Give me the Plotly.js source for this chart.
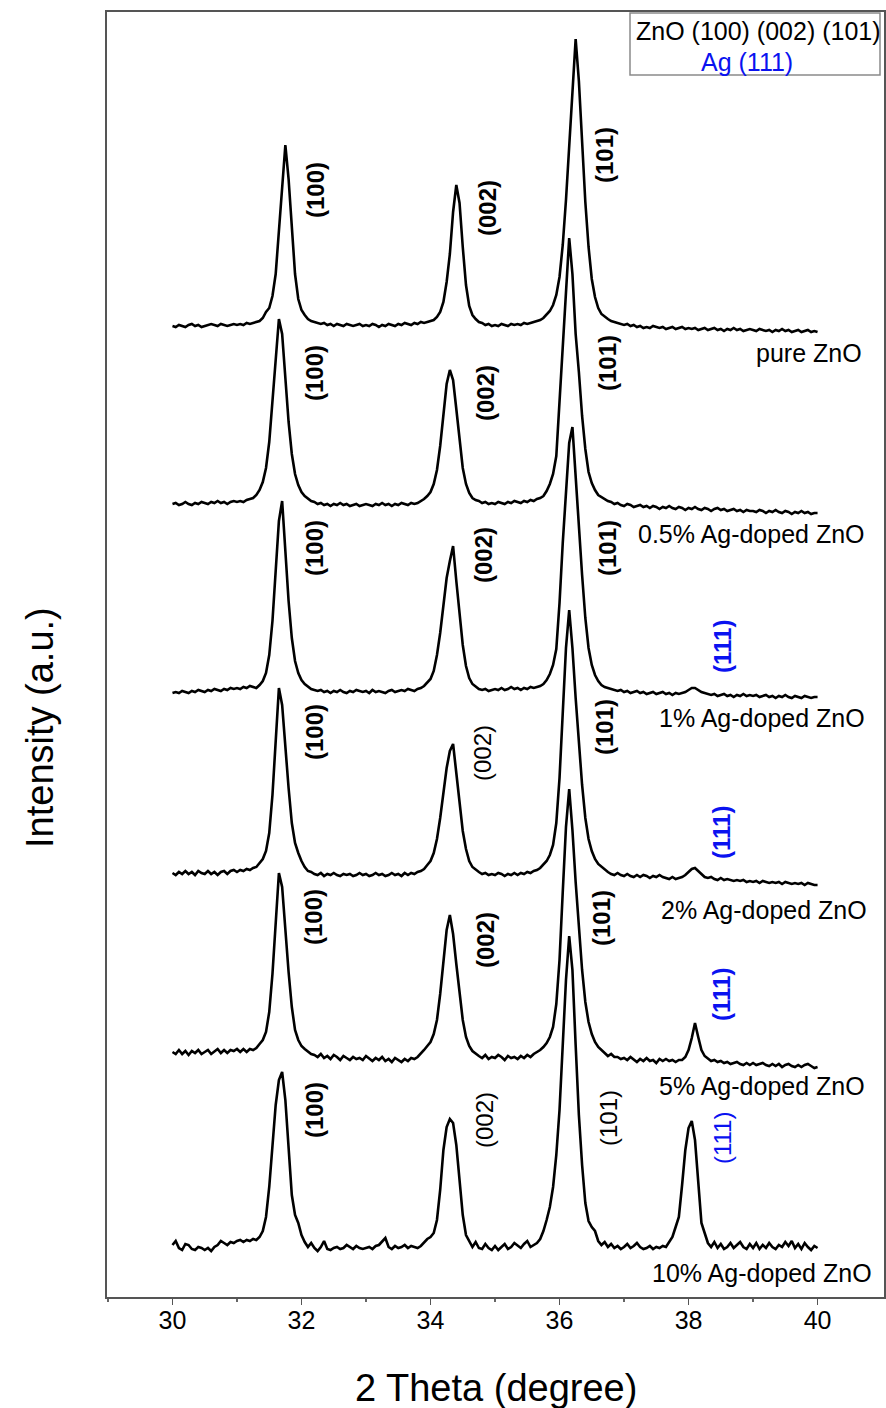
<!DOCTYPE html>
<html><head><meta charset="utf-8">
<script src="https://cdn.plot.ly/plotly-3.0.1.min.js"></script>
<style>html,body{margin:0;padding:0;background:#fff}</style>
</head><body>
<div id="chart" style="width:886px;height:1408px"></div>
<script>
// ---------- data ----------
const twoTheta = [
30,30.05,30.1,30.15,30.2,30.25,30.3,30.35,30.4,30.45,30.5,30.55,30.6,30.65,30.7,30.75,30.8,30.85,30.9,30.95,
31,31.05,31.1,31.15,31.2,31.25,31.3,31.35,31.4,31.45,31.5,31.55,31.6,31.65,31.7,31.75,31.8,31.85,31.9,31.95,
32,32.05,32.1,32.15,32.2,32.25,32.3,32.35,32.4,32.45,32.5,32.55,32.6,32.65,32.7,32.75,32.8,32.85,32.9,32.95,
33,33.05,33.1,33.15,33.2,33.25,33.3,33.35,33.4,33.45,33.5,33.55,33.6,33.65,33.7,33.75,33.8,33.85,33.9,33.95,
34,34.05,34.1,34.15,34.2,34.25,34.3,34.35,34.4,34.45,34.5,34.55,34.6,34.65,34.7,34.75,34.8,34.85,34.9,34.95,
35,35.05,35.1,35.15,35.2,35.25,35.3,35.35,35.4,35.45,35.5,35.55,35.6,35.65,35.7,35.75,35.8,35.85,35.9,35.95,
36,36.05,36.1,36.15,36.2,36.25,36.3,36.35,36.4,36.45,36.5,36.55,36.6,36.65,36.7,36.75,36.8,36.85,36.9,36.95,
37,37.05,37.1,37.15,37.2,37.25,37.3,37.35,37.4,37.45,37.5,37.55,37.6,37.65,37.7,37.75,37.8,37.85,37.9,37.95,
38,38.05,38.1,38.15,38.2,38.25,38.3,38.35,38.4,38.45,38.5,38.55,38.6,38.65,38.7,38.75,38.8,38.85,38.9,38.95,
39,39.05,39.1,39.15,39.2,39.25,39.3,39.35,39.4,39.45,39.5,39.55,39.6,39.65,39.7,39.75,39.8,39.85,39.9,39.95,
40];

const pureZnO = [
0,-1,1,0,-1,1,2,0,1,-1,0,1,2,1,0,2,1,0,1,2,
1,2,1,3,2,3,4,5,8,14,18,30,52,94,142,181,147,94,52,27,
16,11,7,5,4,3,2,3,1,2,0,2,1,0,2,1,0,1,2,0,
1,0,2,1,-1,1,0,2,1,0,2,1,3,2,1,3,2,4,3,4,
5,6,9,14,24,44,72,114,141,123,79,41,20,11,7,4,3,1,2,0,
1,0,2,1,0,2,1,2,1,3,2,3,4,5,6,8,11,15,21,31,
49,81,126,181,241,287,245,180,124,79,47,29,18,12,9,7,5,4,3,2,
1,2,0,1,-1,0,-2,-1,-2,0,-1,-2,-1,-3,-2,-1,-3,-2,-1,-3,
-2,-3,-2,-4,-3,-2,-4,-3,-2,-4,-3,-5,-3,-4,-2,-4,-3,-5,-4,-3,
-4,-5,-3,-4,-5,-4,-6,-4,-5,-3,-5,-4,-6,-5,-4,-6,-5,-4,-6,-5,
-6];

const ag05 = [
0,1,-1,0,2,0,-1,1,0,2,1,0,2,1,3,1,2,0,2,3,
2,3,2,4,5,6,9,14,22,36,62,103,152,185,170,125,82,50,30,19,
12,8,5,3,2,0,1,-1,0,-2,0,-1,1,-1,0,-2,-1,0,-2,-1,
0,-1,-2,0,-1,1,-1,0,-2,0,-1,1,0,-1,1,0,1,3,5,8,
12,20,34,58,90,120,134,124,95,62,36,20,11,6,4,3,1,2,0,1,
0,2,1,0,2,1,3,2,1,3,2,4,3,5,6,8,13,20,30,48,
100,155,212,266,230,170,132,88,55,32,21,14,9,7,5,3,2,0,1,-1,
-2,0,-1,-3,-2,-1,-3,-2,-4,-2,-3,-5,-3,-4,-2,-4,-5,-3,-4,-6,
-4,-5,-3,-5,-6,-4,-5,-7,-5,-4,-6,-5,-7,-6,-5,-7,-6,-8,-6,-7,
-7,-8,-6,-7,-9,-7,-8,-6,-8,-9,-7,-8,-10,-8,-9,-7,-9,-8,-10,-9,
-9];

const ag1 = [
0,1,0,2,1,0,2,1,3,2,1,3,2,4,3,2,4,3,5,4,
5,4,6,5,7,6,5,8,12,20,38,72,125,172,192,140,92,55,32,20,
13,9,6,4,3,2,3,1,2,0,2,1,3,1,0,2,1,3,2,1,
2,0,3,1,2,1,0,2,3,1,2,3,2,4,3,2,4,5,7,10,
14,22,38,60,90,115,132,147,112,80,48,27,15,9,6,4,3,4,2,3,
4,3,5,3,4,6,4,5,3,5,4,6,5,6,7,9,13,19,28,44,
90,150,205,250,266,215,165,118,75,45,28,18,12,8,6,5,4,3,2,3,
1,2,0,1,2,0,1,-1,0,1,-1,0,1,-1,0,-2,0,-1,0,1,
3,5,5,3,1,0,-1,-2,-1,-3,-2,-1,-3,-2,-4,-2,-3,-1,-3,-2,
-3,-2,-4,-3,-2,-4,-3,-5,-3,-4,-2,-4,-5,-3,-4,-5,-3,-4,-5,-4,
-4];

const ag2 = [
0,-2,1,-1,2,-1,1,-2,2,0,-1,2,-1,1,-2,1,2,-1,2,3,
1,3,2,4,3,5,6,10,14,22,40,78,135,185,168,122,85,50,30,20,
12,6,2,1,-1,-2,0,-3,-1,-2,0,-2,-3,-1,-2,-1,-3,-2,0,-2,
-1,-3,-2,0,-2,-1,-3,-2,0,-2,-1,-3,0,-2,0,-1,1,2,4,8,
12,20,34,55,82,105,122,129,100,72,42,24,12,6,3,1,-1,0,-2,-1,
-2,0,-1,-3,-1,-2,0,-2,0,-1,1,0,2,3,5,8,12,18,28,50,
95,160,225,263,225,175,130,88,55,34,22,14,9,6,3,1,-1,-2,0,-2,
-3,-1,-3,-4,-2,-4,-2,-3,-5,-3,-4,-2,-4,-5,-6,-4,-6,-5,-4,-2,
1,4,5,2,-1,-4,-5,-4,-6,-7,-5,-7,-6,-7,-8,-7,-8,-7,-9,-8,
-9,-8,-10,-8,-9,-10,-9,-10,-9,-11,-9,-10,-11,-10,-11,-10,-12,-10,-11,-12,
-12];

const ag5 = [
0,-2,2,-2,1,-3,1,-1,2,-2,0,2,-2,1,3,-1,2,-1,2,1,
3,0,3,0,3,2,4,8,12,20,40,78,132,179,165,120,80,45,22,12,
6,3,0,-2,-3,-5,-2,-6,-4,-7,-3,-5,-8,-4,-6,-8,-5,-7,-6,-8,
-4,-7,-9,-6,-8,-5,-9,-7,-10,-6,-8,-10,-7,-9,-6,-7,-5,-2,2,6,
10,18,32,58,92,122,137,118,88,58,32,15,6,1,-2,-4,-6,-3,-7,-5,
-6,-3,-5,-8,-4,-6,-5,-7,-4,-6,-3,-5,-2,0,2,5,9,15,25,48,
92,160,225,263,222,170,125,82,50,30,18,10,5,2,0,-4,-2,-5,-5,-7,
-6,-8,-5,-8,-10,-7,-9,-6,-9,-8,-11,-7,-9,-7,-9,-8,-10,-8,-8,-5,
2,14,29,15,2,-4,-7,-9,-8,-10,-9,-11,-10,-12,-11,-10,-12,-13,-11,-13,
-11,-13,-12,-11,-13,-14,-12,-14,-12,-15,-13,-12,-14,-15,-13,-15,-13,-12,-14,-16,
-15];

const ag10 = [
0,4,-3,-5,1,0,-4,-5,-2,-3,-5,-3,-6,-2,0,4,2,0,3,2,
4,5,3,5,4,6,5,8,14,28,58,98,140,165,173,145,95,50,30,22,
10,3,-2,2,-3,-6,-2,4,-4,-5,-3,-2,-4,-3,0,-2,-4,-1,-3,-4,
-3,-2,-4,-1,0,4,7,-2,-4,-1,-3,-2,0,-3,-1,-2,-3,-1,3,6,
8,12,25,55,95,118,126,122,100,68,30,10,4,-2,3,-3,-4,1,-3,-5,
-1,-5,-2,1,-4,-2,2,-1,-3,1,4,-2,0,2,6,14,25,38,58,90,
135,195,265,309,275,200,130,80,42,24,18,14,4,0,3,-2,1,-3,-1,-4,
-2,1,-3,-1,2,-2,-4,-3,-1,-4,-2,-3,-1,-2,3,8,18,28,60,95,
117,124,105,65,22,12,2,-2,3,-3,1,-4,-2,2,-3,0,3,-2,-4,1,
-3,2,-4,0,-3,2,-2,-4,0,-2,3,-1,4,-3,1,-4,2,-2,-5,-1,
-3];

const sampleNames = ['pure ZnO','0.5% Ag-doped ZnO','1% Ag-doped ZnO','2% Ag-doped ZnO','5% Ag-doped ZnO','10% Ag-doped ZnO'];
const peakNames = ['(100)','(002)','(101)','(111)'];
const tickValues = [30,32,34,36,38,40];
const tickLabels = ['30','32','34','36','38','40'];

// ---------- layout / style (positions, not data) ----------
const series = [pureZnO, ag05, ag1, ag2, ag5, ag10];
const stackOffsets = [971, 793, 604, 424, 245, 52];
const W = 886, H = 1408;
const M = {l:107, r:2, t:12, b:111};
const plotW = W - M.l - M.r, plotH = H - M.t - M.b;
const FONT = 'Liberation Sans, Arial, Helvetica, sans-serif';
const BLUE = '#0a12f0';

const px = x => (x - M.l) / plotW;
const py = y => (H - M.b - y) / plotH;

const traces = series.map((s, i) => ({
  type: 'scatter', mode: 'lines', x: twoTheta,
  y: s.map(v => v + stackOffsets[i]),
  name: sampleNames[i], showlegend: false,
  line: {color: '#000', width: 2.6}
}));

const ann = [];
const peakLabelPos = [
  [[0,316,190,1],[1,487,208,1],[2,604,155,1]],
  [[0,314,373,1],[1,486,393,1],[2,607,363,1]],
  [[0,314,548,1],[1,483,555,1],[2,607,548,1],[3,722,647,1]],
  [[0,314,732,1],[1,483,753,0],[2,604,727,1],[3,722,833,1]],
  [[0,314,917,1],[1,485,940,1],[2,602,918,1],[3,722,995,1]],
  [[0,314,1110,1],[1,484,1120,0],[2,608,1118,0],[3,722,1138,0]]
];
peakLabelPos.forEach(list => list.forEach(([p, x, y, b]) => {
  const t = peakNames[p];
  ann.push({xref:'paper', yref:'paper', x:px(x), y:py(y), xanchor:'center', yanchor:'middle',
    text: b ? '<b>' + t + '</b>' : t, textangle:-90, showarrow:false,
    font:{family:FONT, size:24, color: p === 3 ? BLUE : '#000'}});
}));
const namePos = [[864,353],[867,534],[867,718],[869,910],[867,1086],[874,1273]];
namePos.forEach(([x, y], i) => ann.push({xref:'paper', yref:'paper', x:px(x), y:py(y),
  xanchor:'right', yanchor:'middle', text: sampleNames[i], showarrow:false,
  font:{family:FONT, size:25, color:'#000'}}));
ann.push({xref:'paper', yref:'paper', x:px(758), y:py(31), xanchor:'center', yanchor:'middle',
  text:'ZnO (100) (002) (101)', showarrow:false, font:{family:FONT, size:25, color:'#000'}});
ann.push({xref:'paper', yref:'paper', x:px(747), y:py(62), xanchor:'center', yanchor:'middle',
  text:'Ag (111)', showarrow:false, font:{family:FONT, size:25, color:BLUE}});
ann.push({xref:'paper', yref:'paper', x:px(496), y:py(1388), xanchor:'center', yanchor:'middle',
  text:'2 Theta (degree)', showarrow:false, font:{family:FONT, size:38, color:'#000'}});
ann.push({xref:'paper', yref:'paper', x:px(40), y:py(728), xanchor:'center', yanchor:'middle',
  text:'Intensity (a.u.)', textangle:-90, showarrow:false, font:{family:FONT, size:38, color:'#000'}});

const layout = {
  width: W, height: H, margin: M,
  paper_bgcolor: '#fff', plot_bgcolor: '#fff', showlegend: false,
  xaxis: {range:[28.985, 41.03], tickmode:'array', tickvals: tickValues, ticktext: tickLabels,
    ticks:'outside', ticklen:6, tickwidth:1.5, tickcolor:'#555', ticklabelstandoff:-6,
    minor:{tickmode:'array', tickvals:[29,31,33,35,37,39], ticks:'outside', ticklen:3, tickwidth:1.2, tickcolor:'#666'},
    showline:true, linecolor:'#555', linewidth:1.6, mirror:true, showgrid:false, zeroline:false,
    tickfont:{family:FONT, size:25, color:'#000'}, automargin:false},
  yaxis: {range:[0, 1285], showticklabels:false, ticks:'', showgrid:false, zeroline:false,
    showline:true, linecolor:'#555', linewidth:1.6, mirror:true, automargin:false},
  shapes: [{type:'rect', xref:'paper', yref:'paper', x0:px(630), x1:px(880), y0:py(75), y1:py(13),
    line:{color:'#8a8a8a', width:1.5}, fillcolor:'rgba(0,0,0,0)'}],
  annotations: ann
};

Plotly.newPlot('chart', traces, layout, {staticPlot:true, displayModeBar:false});
</script>
</body></html>
